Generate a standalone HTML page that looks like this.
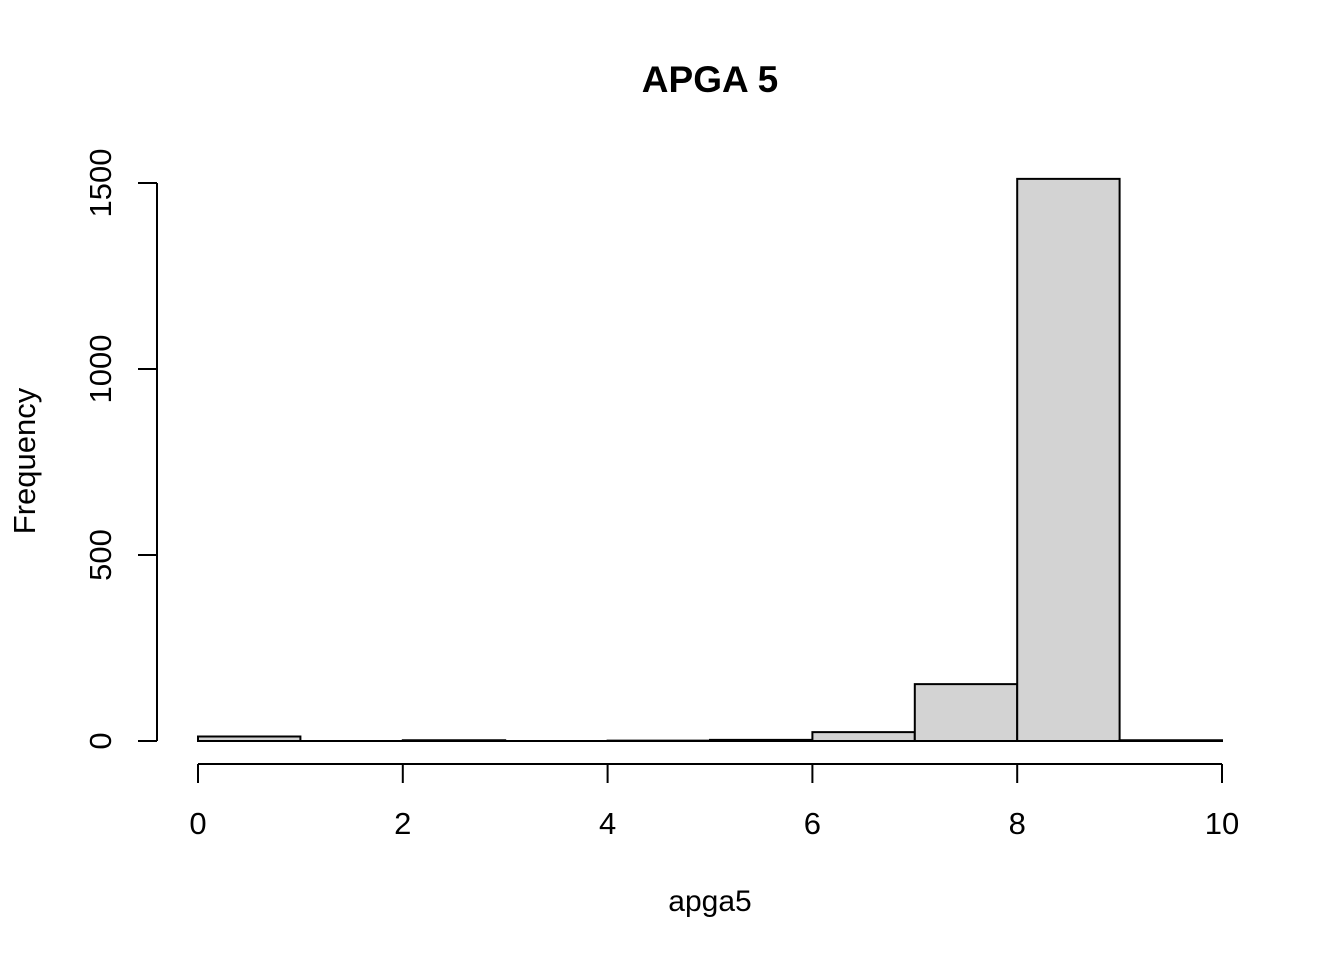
<!DOCTYPE html>
<html><head><meta charset="utf-8"><style>
html,body{margin:0;padding:0;background:#fff;}
svg text{font-family:"Liberation Sans",Arial,sans-serif;}
</style></head><body>
<svg id="chart" width="1344" height="960" xmlns="http://www.w3.org/2000/svg">
<text x="710" y="92" text-anchor="middle" font-size="37" font-weight="bold">APGA 5</text>
<text x="710" y="911" text-anchor="middle" font-size="30">apga5</text>
<text transform="translate(35,461) rotate(-90)" text-anchor="middle" font-size="31">Frequency</text>
<g id="bars"></g><g id="xaxis"></g><g id="yaxis"></g>
</svg>
<script>
const binEdges=[0,1,2,3,4,5,6,7,8,9,10];
const counts=[12,0,2,0,1,3,24,153,1511,2];
const xTicks=[0,2,4,6,8,10];
const yTicks=[0,500,1000,1500];
const ns="http://www.w3.org/2000/svg";
const X=v=>198+v*102.4;
const Y=v=>741-v*0.372;
function mk(t,a,p){const e=document.createElementNS(ns,t);for(const k in a)e.setAttribute(k,a[k]);p.appendChild(e);return e;}
const bars=document.getElementById('bars');
counts.forEach((c,i)=>{
 const x0=X(binEdges[i]),x1=X(binEdges[i+1]),y0=Y(0),y1=Y(c);
 const r=mk('path',{d:`M${x0},${y0}L${x0},${y1}L${x1},${y1}L${x1},${y0}Z`,fill:'#d3d3d3',stroke:'#000','stroke-width':2},bars);
 
 
});
const xa=document.getElementById('xaxis');


mk('line',{x1:X(xTicks[0]),x2:X(xTicks[xTicks.length-1]),y1:764,y2:764,stroke:'#000','stroke-width':2},xa);
xTicks.forEach(t=>{
 mk('line',{x1:X(t),x2:X(t),y1:764,y2:783,stroke:'#000','stroke-width':2},xa);
 const tx=mk('text',{x:X(t),y:834,'text-anchor':'middle','font-size':31},xa);tx.textContent=t;
 
 
});
const ya=document.getElementById('yaxis');


mk('line',{x1:157,x2:157,y1:Y(yTicks[0]),y2:Y(yTicks[yTicks.length-1]),stroke:'#000','stroke-width':2},ya);
yTicks.forEach(t=>{
 mk('line',{x1:138,x2:157,y1:Y(t),y2:Y(t),stroke:'#000','stroke-width':2},ya);
 const tx=mk('text',{transform:`translate(111,${Y(t)}) rotate(-90)`,'text-anchor':'middle','font-size':31},ya);tx.textContent=t;
 
 
});
</script>
</body></html>
